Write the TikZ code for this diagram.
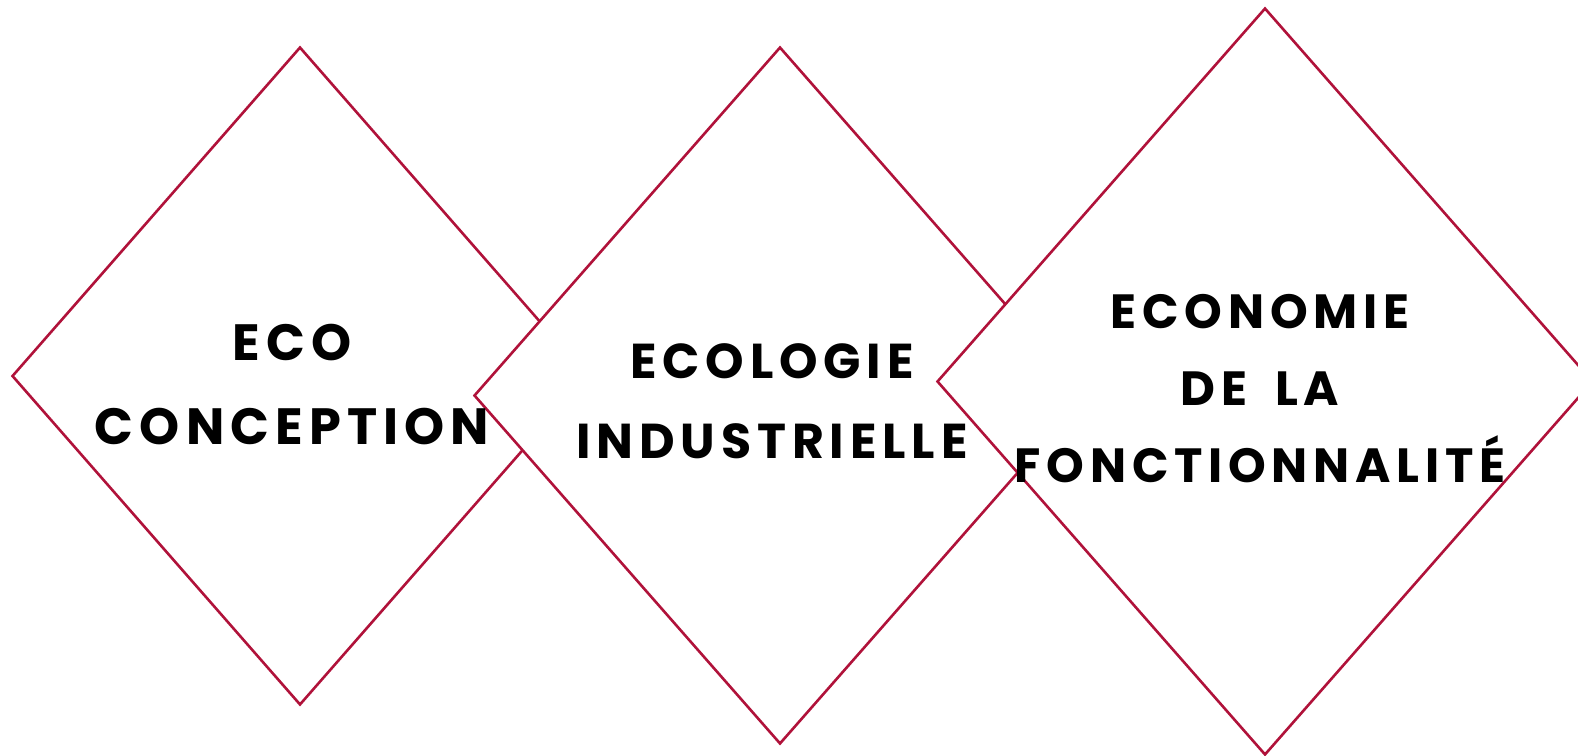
\documentclass[tikz,border=0pt]{standalone}
\usepackage{fontspec}
\newfontfamily\etiqfont[LetterSpace=12]{Poppins}
\usetikzlibrary{shapes.geometric}
\definecolor{bordeaux}{RGB}{176,18,58}
\begin{document}
\begin{tikzpicture}[x=1pt,y=-1pt,
  losange/.style={shape=diamond,draw=bordeaux,line width=2.6pt,fill=white,inner sep=0pt},
  etiquette/.style={align=center,text=black,font=\etiqfont\bfseries\fontsize{49}{80}\selectfont}]
\clip (0,0) rectangle (1578,755);

% losanges
\node[losange,minimum width=576,minimum height=658] (eco) at (300,376) {};
\node[losange,minimum width=612,minimum height=697] (ecol) at (780,395.5) {};
\node[losange,minimum width=656,minimum height=747] (econ) at (1265,381.5) {};

% textes
\node[etiquette,font=\etiqfont\bfseries\fontsize{51}{84}\selectfont] (ecoT) at (292,385) {ECO\\CONCEPTION};
\node[etiquette] (ecolT) at (772,401) {ECOLOGIE\\INDUSTRIELLE};
\node[etiquette,font=\etiqfont\bfseries\fontsize{48}{77}\selectfont] (econT) at (1260,389) {ECONOMIE\\DE\hspace{0.25em} LA\\FONCTIONNALITÉ};

\end{tikzpicture}
\end{document}
